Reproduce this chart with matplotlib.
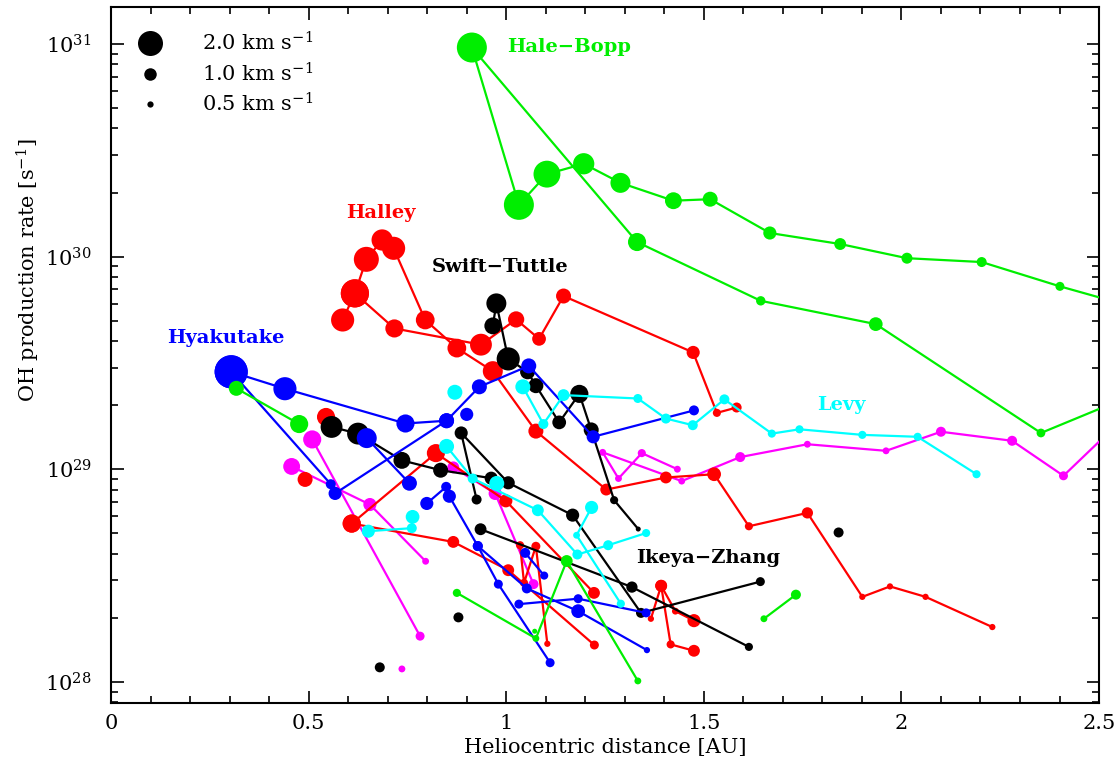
import numpy as np
import matplotlib
matplotlib.use('Agg')
import matplotlib.pyplot as plt
from matplotlib.lines import Line2D
from matplotlib.ticker import MultipleLocator, LogLocator, FuncFormatter, NullFormatter

plt.rcParams['font.family'] = 'DejaVu Serif'
plt.rcParams['mathtext.fontset'] = 'dejavuserif'

# (heliocentric distance [AU], Q(OH) [1e28 s^-1], outflow velocity [km/s])
hale_bopp = [(2.60, 57.0, 0.70), (2.401, 72.4, 0.72), (2.203, 94.2, 0.80), (2.014, 98.2, 0.88),
             (1.845, 114.5, 0.95), (1.667, 129.0, 1.05), (1.516, 186.0, 1.20), (1.423, 183.0, 1.35),
             (1.289, 222.0, 1.60), (1.196, 273.0, 1.70), (1.103, 244.0, 2.15), (1.032, 175.0, 2.40),
             (0.913, 961.0, 2.40), (1.331, 117.0, 1.45), (1.644, 61.9, 0.75), (1.935, 48.1, 1.10),
             (2.353, 14.8, 0.70), (2.60, 22.9, 0.70)]
green_a = [(0.317, 24.0, 1.20), (0.476, 16.3, 1.45)]
green_b = [(0.875, 2.62, 0.65), (1.075, 1.60, 0.55), (1.153, 3.70, 0.95), (1.333, 1.01, 0.55)]
green_c = [(1.652, 1.98, 0.55), (1.733, 2.57, 0.80)]
green_dots = [(1.072, 1.73, 0.40)]

halley_in = [(1.583, 19.5, 0.80), (1.533, 18.4, 0.65), (1.473, 35.4, 1.05), (1.145, 65.2, 1.20),
             (1.083, 41.0, 1.10), (1.025, 50.6, 1.30), (0.936, 38.5, 1.75), (0.717, 45.9, 1.45),
             (0.617, 67.1, 2.25), (0.586, 50.3, 1.85)]
halley_out = [(0.617, 67.1, 2.25), (0.646, 97.0, 2.00), (0.686, 119.6, 1.70), (0.715, 109.3, 1.85),
              (0.795, 50.3, 1.50), (0.875, 37.1, 1.50), (0.966, 28.9, 1.60), (1.075, 15.1, 1.20),
              (1.253, 8.02, 0.95), (1.404, 9.14, 0.95), (1.526, 9.47, 1.10), (1.614, 5.39, 0.65),
              (1.762, 6.23, 0.90), (1.901, 2.51, 0.50), (1.971, 2.81, 0.50), (2.061, 2.51, 0.50),
              (2.230, 1.81, 0.50)]
red_c = [(0.609, 5.55, 1.45), (0.822, 11.9, 1.45), (0.999, 7.10, 1.05), (1.222, 2.62, 0.95)]
red_d = [(0.609, 5.55, 1.45), (0.866, 4.55, 0.95), (1.005, 3.35, 0.95), (1.223, 1.49, 0.72)]
red_e = [(1.035, 4.39, 0.65), (1.045, 2.92, 0.65), (1.075, 4.34, 0.72), (1.104, 1.51, 0.50)]
red_f = [(1.366, 1.98, 0.50), (1.392, 2.83, 0.95), (1.428, 2.15, 0.55), (1.475, 1.94, 1.05)]
red_g = [(1.392, 2.83, 0.95), (1.416, 1.50, 0.65), (1.475, 1.40, 0.95)]
red_dots = [(0.544, 17.6, 1.45), (0.491, 8.95, 1.20)]

hyakutake_a = [(0.304, 28.7, 2.65), (0.440, 23.9, 1.85), (0.745, 16.4, 1.45), (0.849, 16.9, 1.20),
               (0.932, 24.4, 1.20), (1.057, 30.6, 1.20), (1.220, 14.2, 1.05), (1.475, 18.9, 0.80)]
hyakutake_b = [(0.304, 28.7, 2.65), (0.556, 8.50, 0.80), (0.567, 7.69, 1.05), (0.849, 16.9, 1.20)]
blue_c = [(0.647, 14.0, 1.60), (0.755, 8.59, 1.20)]
blue_d = [(0.799, 6.90, 1.05), (0.848, 8.26, 0.80), (0.856, 7.46, 1.05), (0.928, 4.35, 0.80),
          (0.980, 2.88, 0.72), (1.111, 1.23, 0.72)]
blue_e = [(0.928, 4.35, 0.80), (1.052, 2.75, 0.80), (1.182, 2.15, 1.10), (1.356, 1.41, 0.50)]
blue_f = [(1.032, 2.32, 0.72), (1.182, 2.46, 0.72), (1.354, 2.11, 0.72)]
blue_g = [(1.048, 4.04, 0.80), (1.096, 3.16, 0.65)]
blue_dots = [(0.900, 18.1, 1.05)]

swift_tuttle = [(0.966, 47.2, 1.35), (0.975, 60.2, 1.60), (1.005, 33.0, 1.85), (1.054, 28.7, 1.20),
                (1.075, 24.7, 1.20), (1.134, 16.6, 1.10), (1.185, 22.6, 1.45), (1.215, 15.3, 1.20),
                (1.273, 7.15, 0.65), (1.334, 5.23, 0.40)]
black_b = [(0.558, 15.8, 1.75), (0.625, 14.7, 1.75), (0.736, 11.0, 1.35), (0.834, 9.89, 1.20),
           (0.962, 9.07, 1.05)]
black_c = [(0.925, 7.20, 0.80), (0.886, 14.8, 1.05), (1.005, 8.63, 1.05), (1.168, 6.08, 1.05),
           (1.341, 2.11, 0.80), (1.643, 2.96, 0.72)]
black_d = [(0.935, 5.22, 0.95), (1.318, 2.79, 0.90), (1.614, 1.46, 0.65)]
black_dots = [(0.879, 2.01, 0.80), (0.680, 1.17, 0.80), (1.841, 5.04, 0.80)]

levy = [(1.042, 24.4, 1.20), (1.094, 16.3, 0.80), (1.145, 22.3, 0.95), (1.333, 21.5, 0.72),
        (1.404, 17.3, 0.80), (1.472, 16.1, 0.80), (1.552, 21.3, 0.80), (1.672, 14.7, 0.65),
        (1.742, 15.4, 0.65), (1.901, 14.5, 0.65), (2.041, 14.2, 0.65), (2.190, 9.47, 0.65)]
cyan_b = [(0.849, 12.8, 1.20), (0.915, 9.04, 0.80), (1.080, 6.41, 0.95), (1.180, 3.97, 0.80),
          (1.258, 4.39, 0.80), (1.354, 5.01, 0.65)]
cyan_c = [(1.216, 6.61, 1.05), (1.178, 4.89, 0.55), (1.290, 2.33, 0.65)]
cyan_d = [(0.651, 5.11, 1.05), (0.761, 5.28, 0.80), (0.763, 5.97, 1.10)]
cyan_dots = [(0.870, 23.0, 1.20), (0.976, 8.57, 1.20)]

mag_a = [(0.457, 10.3, 1.35), (0.655, 6.82, 1.05), (0.796, 3.69, 0.55)]
mag_b = [(0.509, 13.8, 1.45), (0.782, 1.64, 0.72)]
mag_c = [(0.866, 10.2, 0.95), (0.972, 7.69, 1.05), (1.069, 2.88, 0.80)]
mag_d = [(1.433, 10.0, 0.55), (1.343, 11.9, 0.65), (1.284, 9.04, 0.55), (1.244, 12.0, 0.55),
         (1.444, 8.79, 0.55), (1.592, 11.4, 0.80), (1.762, 13.1, 0.55), (1.961, 12.2, 0.55),
         (2.100, 15.0, 0.80), (2.280, 13.6, 0.80), (2.410, 9.31, 0.72), (2.60, 20.3, 0.72)]
mag_dots = [(0.736, 1.15, 0.55)]

RED, GREEN, BLUE, CYAN, MAG = '#ff0000', '#00ee00', '#0000ff', '#00ffff', '#ff00ff'

layers = [
    (mag_a, MAG, True), (mag_b, MAG, True), (mag_c, MAG, True), (mag_d, MAG, True), (mag_dots, MAG, False),
    (halley_in, RED, True), (halley_out, RED, True), (red_c, RED, True), (red_d, RED, True),
    (red_e, RED, True), (red_f, RED, True), (red_g, RED, True), (red_dots, RED, False),
    (swift_tuttle, 'k', True), (black_b, 'k', True), (black_c, 'k', True), (black_d, 'k', True),
    (black_dots, 'k', False),
    (hyakutake_a, BLUE, True), (hyakutake_b, BLUE, True), (blue_c, BLUE, True), (blue_d, BLUE, True),
    (blue_e, BLUE, True), (blue_f, BLUE, True), (blue_g, BLUE, True), (blue_dots, BLUE, False),
    (levy, CYAN, True), (cyan_b, CYAN, True), (cyan_c, CYAN, True), (cyan_d, CYAN, True),
    (cyan_dots, CYAN, False),
    (green_a, GREEN, True), (green_b, GREEN, True), (green_c, GREEN, True), (green_dots, GREEN, False),
    (hale_bopp, GREEN, True),
]

# marker diameter in points for a given velocity
def msize(v):
    return 9.0 * np.asarray(v)


fig = plt.figure(figsize=(11.16, 7.64), dpi=100)
ax = fig.add_axes([0.0995, 0.0798, 0.8853, 0.9110])

for i, (pts, col, joined) in enumerate(layers):
    a = np.array(pts)
    r, q, v = a[:, 0], a[:, 1] * 1e28, a[:, 2]
    z = 2 + i
    if joined:
        ax.plot(r, q, color=col, lw=1.6, zorder=z)
    ax.scatter(r, q, s=msize(v) ** 2, color=col, edgecolors='none', zorder=z + 0.5)

ax.set_yscale('log')
ax.set_xlim(0, 2.5)
ax.set_ylim(7.95e27, 1.49e31)

ax.xaxis.set_major_locator(MultipleLocator(0.5))
ax.xaxis.set_minor_locator(MultipleLocator(0.1))
ax.xaxis.set_major_formatter(FuncFormatter(lambda x, p: '%g' % x))
ax.yaxis.set_major_locator(LogLocator(base=10, numticks=10))
ax.yaxis.set_minor_locator(LogLocator(base=10, subs=np.arange(2, 10), numticks=20))
ax.yaxis.set_minor_formatter(NullFormatter())

ax.tick_params(which='both', direction='in', top=True, right=True, width=1.2)
ax.tick_params(which='major', length=9, labelsize=15)
ax.tick_params(which='minor', length=5)
ax.tick_params(axis='x', which='major', pad=8)
ax.tick_params(axis='y', which='major', pad=14)
for s in ax.spines.values():
    s.set_linewidth(1.5)

ax.set_xlabel('Heliocentric distance [AU]', fontsize=15)
ax.set_ylabel('OH production rate [s$^{-1}$]', fontsize=15)
ax.xaxis.set_label_coords(0.5, -0.05)
ax.yaxis.set_label_coords(-0.07, 0.622)

# comet names
lab = dict(fontsize=14, fontweight='bold', va='center')
ax.text(1.002, 9.68e30, 'Hale\u2212Bopp', color=GREEN, ha='left', **lab)
ax.text(0.683, 1.60e30, 'Halley', color=RED, ha='center', **lab)
ax.text(0.812, 8.93e29, 'Swift\u2212Tuttle', color='k', ha='left', **lab)
ax.text(0.142, 4.13e29, 'Hyakutake', color=BLUE, ha='left', **lab)
ax.text(1.786, 2.00e29, 'Levy', color=CYAN, ha='left', **lab)
ax.text(1.328, 3.81e28, 'Ikeya\u2212Zhang', color='k', ha='left', **lab)

# velocity scale legend
leg_v = [2.0, 1.0, 0.5]
handles = [Line2D([], [], ls='none', marker='o', color='k', markeredgewidth=0, markersize=msize(v))
           for v in leg_v]
labels = ['%.1f km s$^{-1}$' % v for v in leg_v]
ax.legend(handles, labels, loc='upper left', bbox_to_anchor=(0.0248, 0.965), frameon=False,
          fontsize=15, handlelength=1.4, handletextpad=1.8, labelspacing=0.35, borderpad=0,
          borderaxespad=0)

fig.savefig('out.png', dpi=100)
